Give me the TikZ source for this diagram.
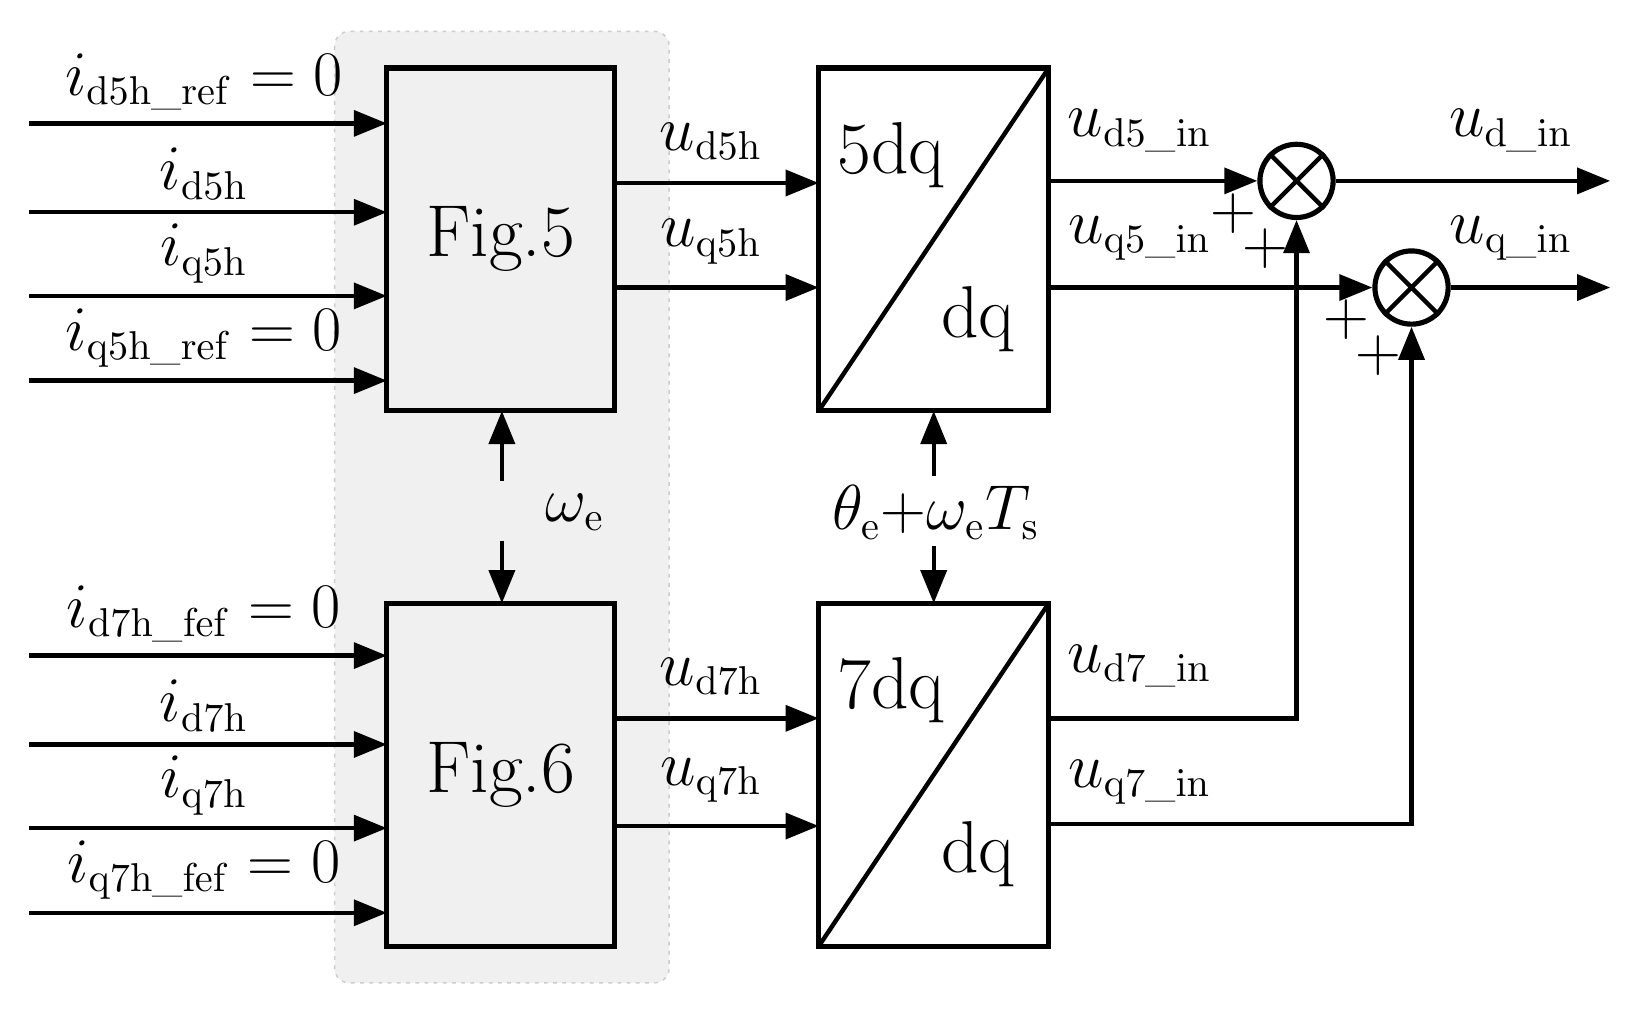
\documentclass[tikz,border=0pt]{standalone}
\usepackage{amsmath}
\usetikzlibrary{arrows.meta}
\begin{document}
\begin{tikzpicture}[x=0.01cm,y=-0.01cm,
    blk/.style={draw,line width=1.4pt},
    sig/.style={line width=1.2pt,-{Triangle[length=9pt,width=7pt]}},
    lab/.style={font=\fontsize{16}{19}\selectfont},
    big/.style={font=\fontsize{20}{24}\selectfont},
    sum/.style={draw,line width=1.4pt,circle,minimum size=0.7cm,inner sep=0pt}]
    \useasboundingbox (0,0) rectangle (1580,975.5);
    % shaded region
    \fill[gray!12,rounded corners=4pt] (320,30) rectangle (640,940);
    \draw[gray!40,dash pattern=on 1pt off 1.5pt,rounded corners=4pt] (320,30) rectangle (640,940);
    % blocks
    \draw[blk,fill=gray!12] (370,65) rectangle (588,393);
    \node[big] (fa) at (479,229) {Fig.5};
    \draw[blk,fill=gray!12] (370,577) rectangle (588,905);
    \node[big] (fb) at (479,741) {Fig.6};
    \draw[blk] (783,65) rectangle (1003,393);
    \draw[line width=1.2pt] (783,393) -- (1003,65);
    \node[big] at (852,148) {5dq};
    \node[big] at (935,305) {dq};
    \draw[blk] (783,577) rectangle (1003,905);
    \draw[line width=1.2pt] (783,905) -- (1003,577);
    \node[big] at (852,660) {7dq};
    \node[big] at (935,817) {dq};
    % inputs
    \foreach \y/\lab in {118/i_{\mathrm{d5h\_ref}}=0, 203/i_{\mathrm{d5h}}, 283/i_{\mathrm{q5h}}, 364/i_{\mathrm{q5h\_ref}}=0,
                         627/i_{\mathrm{d7h\_fef}}=0, 712/i_{\mathrm{d7h}}, 792/i_{\mathrm{q7h}}, 873/i_{\mathrm{q7h\_fef}}=0} {
        \draw[sig] (28,\y) -- (370,\y);
        \node[lab,anchor=south] at (195,\y) {$\lab$};
    }
    % block to dq
    \foreach \y/\lab in {175/u_{\mathrm{d5h}}, 275/u_{\mathrm{q5h}}, 687/u_{\mathrm{d7h}}, 790/u_{\mathrm{q7h}}} {
        \draw[sig] (588,\y) -- (783,\y);
        \node[lab,anchor=south] at (680,\y-10) {$\lab$};
    }
    % speed and angle
    \node[lab] (we) at (550,490) {$\omega_{\mathrm{e}}$};
    \draw[sig] (480,460) -- (480,393);
    \draw[sig] (480,517) -- (480,577);
    \node[lab] (th) at (895,490) {$\theta_{\mathrm{e}}{+}\omega_{\mathrm{e}}T_{\mathrm{s}}$};
    \draw[sig] (893,455) -- (893,393);
    \draw[sig] (893,522) -- (893,577);
    % summing junctions
    \node[sum] (s1) at (1240,173) {};
    \draw[line width=1.2pt] (s1.45) -- (s1.225) (s1.135) -- (s1.315);
    \node[sum] (s2) at (1350,275) {};
    \draw[line width=1.2pt] (s2.45) -- (s2.225) (s2.135) -- (s2.315);
    \draw[sig] (1003,173) -- (s1.west);
    \draw[sig] (1003,275) -- (s2.west);
    \draw[sig] (1003,687) -| (s1.south);
    \draw[sig] (1003,788) -| (s2.south);
    \draw[sig] (s1.east) -- (1540,173);
    \draw[sig] (s2.east) -- (1540,275);
    \foreach \y/\lab in {125/u_{\mathrm{d5\_in}}, 228/u_{\mathrm{q5\_in}}, 637/u_{\mathrm{d7\_in}}, 748/u_{\mathrm{q7\_in}}}
        \node[lab] at (1090,\y) {$\lab$};
    \node[lab] at (1445,125) {$u_{\mathrm{d\_in}}$};
    \node[lab] at (1445,228) {$u_{\mathrm{q\_in}}$};
    % signs
    \foreach \p in {(1180,204),(1210,238),(1288,306),(1318,340)}
        \node[font=\fontsize{16}{18}\selectfont,inner sep=0pt] at \p {$+$};
\end{tikzpicture}
\end{document}
